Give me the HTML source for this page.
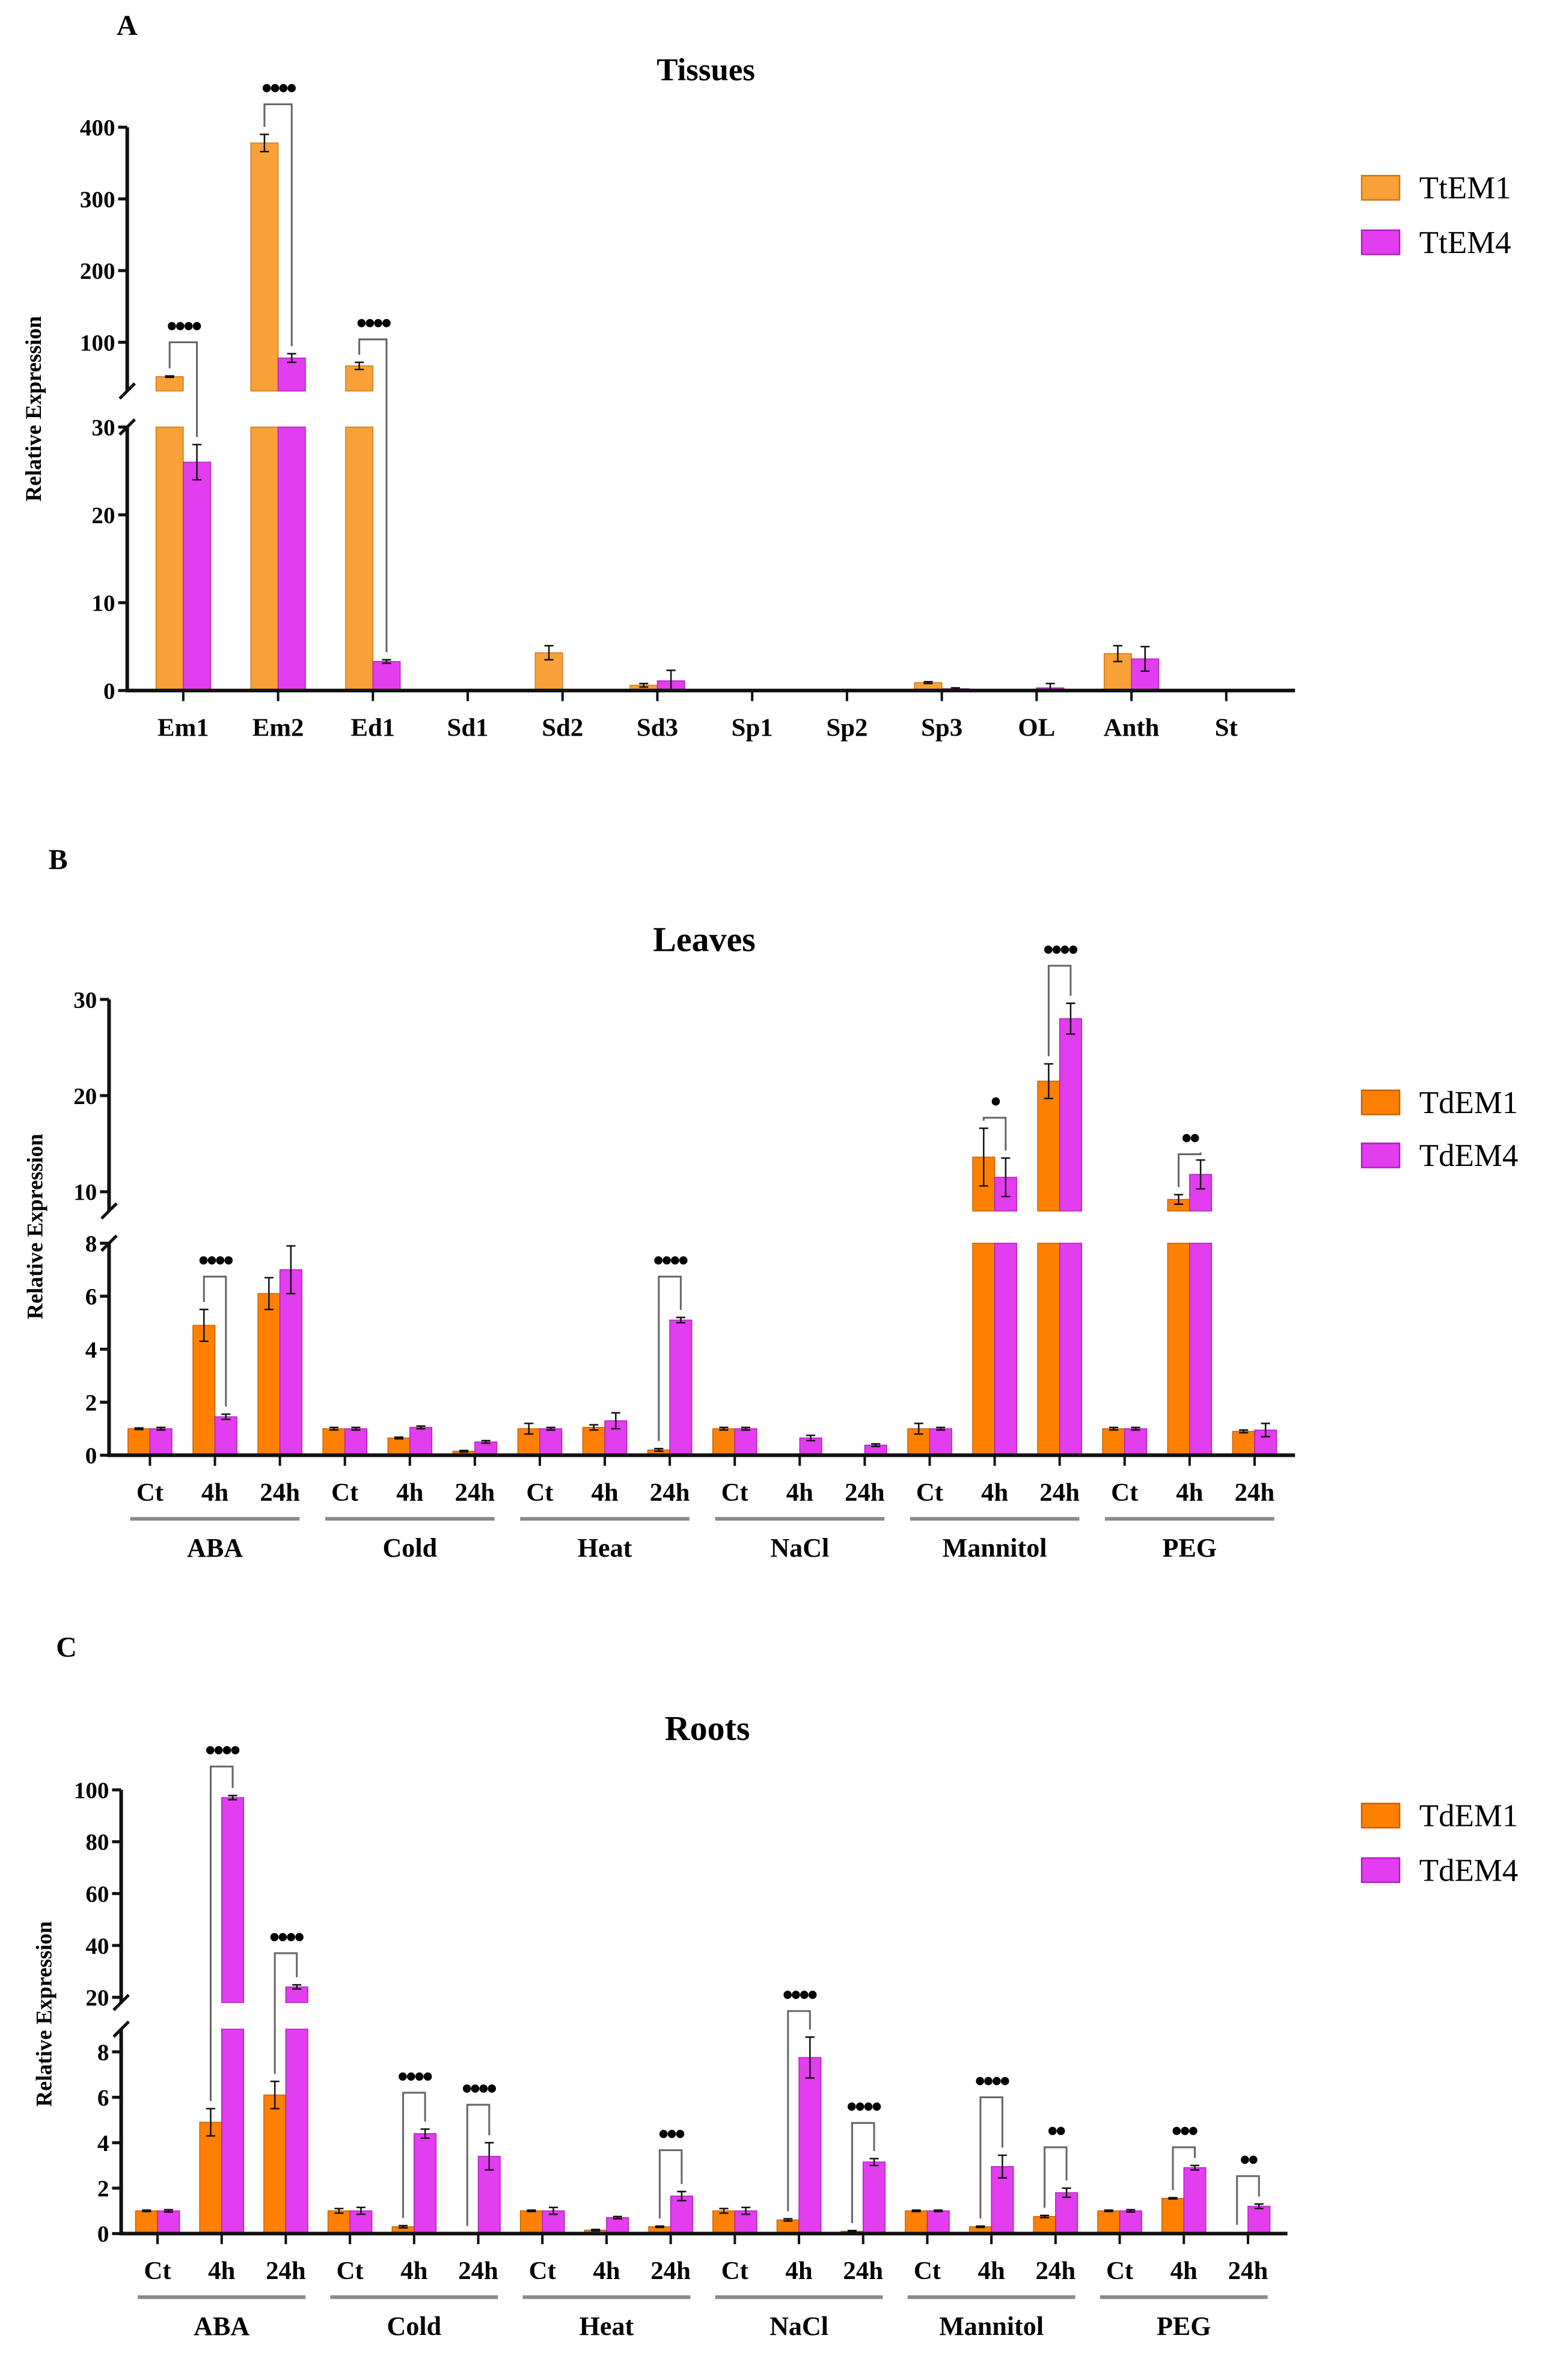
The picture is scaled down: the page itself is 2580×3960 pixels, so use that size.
<!DOCTYPE html>
<html><head><meta charset="utf-8"><style>
html,body{margin:0;padding:0;background:#fff;}
svg{display:block;}
text{font-family:"Liberation Serif",serif;}
</style></head><body>
<svg id="fig" xmlns="http://www.w3.org/2000/svg" width="2580" height="3960" viewBox="0 0 1024 1571.7" preserveAspectRatio="none"></svg>
<script>
// ---- Panel A data ----
const aCats=['Em1','Em2','Ed1','Sd1','Sd2','Sd3','Sp1','Sp2','Sp3','OL','Anth','St'];
const aS1=[52,378,67,0,4.3,0.6,0,0,0.9,0,4.2,0];
const aE1=[1,12,5,0,0.8,0.2,0,0,0.1,0,0.9,0];
const aS2=[26,78,3.3,0,0,1.1,0,0,0.2,0.3,3.6,0];
const aE2=[2,6,0.2,0,0,1.2,0,0,0.1,0.5,1.4,0];
const aTicksLow=[0,10,20,30];
const aTicksUp=[100,200,300,400];
const aSigIdx=[0,1,2];
const aSigLvl=[100,432,104];
const aSigLbl=['••••','••••','••••'];
// ---- Panel B data ----
const bGroups=['ABA','Cold','Heat','NaCl','Mannitol','PEG'];
const bSub=['Ct','4h','24h'];
const bS1=[1,4.9,6.1, 1,0.65,0.15, 1,1.05,0.2, 1,0,0, 1,13.6,21.5, 1,9.2,0.9];
const bE1=[0.03,0.6,0.6, 0.05,0.03,0.03, 0.2,0.1,0.05, 0.05,0,0, 0.2,3,1.8, 0.05,0.5,0.05];
const bS2=[1,1.45,7.0, 1,1.05,0.5, 1,1.3,5.1, 1,0.65,0.38, 1,11.5,28, 1,11.8,0.95];
const bE2=[0.05,0.1,0.9, 0.05,0.05,0.05, 0.05,0.3,0.1, 0.05,0.1,0.05, 0.05,2,1.6, 0.05,1.5,0.25];
const bTicksLow=[0,2,4,6,8];
const bTicksUp=[10,20,30];
const bSigIdx=[1,8,13,14,16];
const bSigLvl=[6.74,6.74,17.7,33.5,13.9];
const bSigLbl=['••••','••••','•','••••','••'];
// ---- Panel C data ----
const cS1=[1,4.9,6.1, 1,0.3,0, 1,0.15,0.3, 1,0.6,0.1, 1,0.3,0.75, 1,1.55,0.05];
const cE1=[0.03,0.6,0.6, 0.1,0.05,0, 0.03,0.03,0.03, 0.1,0.05,0.03, 0.03,0.03,0.05, 0.03,0.03,0];
const cS2=[1,97,24, 1,4.4,3.4, 1,0.7,1.65, 1,7.75,3.15, 1,2.95,1.8, 1,2.9,1.2];
const cE2=[0.05,0.8,0.8, 0.15,0.2,0.6, 0.15,0.05,0.2, 0.15,0.9,0.15, 0.03,0.5,0.2, 0.05,0.1,0.1];
const cTicksLow=[0,2,4,6,8];
const cTicksUp=[20,40,60,80,100];
const cSigIdx=[1,2,4,5,8,10,11,13,14,16,17];
const cSigLvl=[109,37,6.2,5.67,3.67,14.7,4.87,6,3.8,3.8,2.53];
const cSigLbl=['••••','••••','••••','••••','•••','••••','••••','••••','••','•••','••'];

const NS='http://www.w3.org/2000/svg';
const svg=document.getElementById('fig');
function mk(tag,attrs,parent,txt){const e=document.createElementNS(NS,tag);for(const k in attrs)e.setAttribute(k,attrs[k]);if(txt!==undefined)e.textContent=txt;(parent||svg).appendChild(e);return e;}

function chart(o){
  const g=mk('g',{});
  
  
  const L=o.low,U=o.up;
  const y=v=> v<=L.max ? L.y0-v*L.k : U.by-(v-U.min)*U.k;
  const xc=i=>o.first+i*o.step;
  const n=o.s1.length;
  function bar(cx,v,col,stroke,nm){
    if(v<=0)return;
    if(v<=L.max){
      const r=mk('rect',{x:cx,y:y(v),width:o.bw,height:L.y0-y(v),fill:col,stroke:stroke,'stroke-width':0.6},g);
      
    }else{
      const r1=mk('rect',{x:cx,y:L.y0-L.max*L.k,width:o.bw,height:L.max*L.k,fill:col,stroke:stroke,'stroke-width':0.6},g);
      
      const r2=mk('rect',{x:cx,y:y(v),width:o.bw,height:U.by-y(v),fill:col,stroke:stroke,'stroke-width':0.6},g);
      
    }
  }
  function err(cx,v,e){
    if(v<=0||e<=0)return;
    const x=cx+o.bw/2;
    const el=mk('path',{d:`M${x},${y(v+e)}V${y(Math.max(v-e,0))}M${x-3},${y(v+e)}h6M${x-3},${y(Math.max(v-e,0))}h6`,stroke:'#111','stroke-width':1,fill:'none'},g);
    
  }
  for(let i=0;i<n;i++){
    bar(xc(i)-o.bw,o.s1[i],o.c1,o.sk1,'bar-'+o.l1+'-'+i);
    bar(xc(i),o.s2[i],o.c2,o.sk2,'bar-'+o.l2+'-'+i);
    err(xc(i)-o.bw,o.s1[i],o.e1[i]);
    err(xc(i),o.s2[i],o.e2[i]);
  }
  const ax=mk('path',{d:`M${o.x0},${y(L.max)}V${L.y0}H${o.xEnd}M${o.x0},${y(U.ticks[U.ticks.length-1])}V${U.by}`,stroke:'#111','stroke-width':2.4,fill:'none'},g);
  
  const br=mk('path',{d:`M${o.x0-5},${U.by+5}L${o.x0+5},${U.by-5}M${o.x0-5},${y(L.max)+5}L${o.x0+5},${y(L.max)-5}`,stroke:'#111','stroke-width':2,fill:'none'},g);
  
  [...L.ticks,...U.ticks].forEach(t=>{
    const ty=y(t);
    mk('path',{d:`M${o.x0-6},${ty}H${o.x0}`,stroke:'#111','stroke-width':2},g);
    const tl=mk('text',{x:o.x0-8,y:ty+5.5,'text-anchor':'end','font-size':15.5,'font-weight':'bold'},g,String(t));
    
  });
  for(let i=0;i<n;i++){
    mk('path',{d:`M${xc(i)},${L.y0}v7`,stroke:'#111','stroke-width':1.6},g);
    const t=mk('text',{x:xc(i),y:L.y0+30,'text-anchor':'middle','font-size':17,'font-weight':'bold'},g,o.xl[i]);
    
  }
  if(o.groups){
    o.groups.forEach((gn,j)=>{
      const a=xc(j*3)-13,b=xc(j*3+2)+13;
      const ln=mk('path',{d:`M${a},${L.y0+42}H${b}`,stroke:'#8a8a8a','stroke-width':2.4},g);
      
      const t=mk('text',{x:(a+b)/2,y:L.y0+67,'text-anchor':'middle','font-size':17.5,'font-weight':'bold'},g,gn);
      
    });
  }
  o.sigIdx.forEach((i,k)=>{
    const by=y(o.sigLvl[k]);
    const xl=xc(i)-o.bw/2, xr=xc(i)+o.bw/2;
    const yl=y(o.s1[i]+o.e1[i])-5, yr=y(o.s2[i]+o.e2[i])-5;
    const p=mk('path',{d:`M${xl},${yl}V${by}H${xr}V${yr}`,stroke:'#666','stroke-width':1.2,fill:'none'},g);
    
    const t=mk('text',{x:(xl+xr)/2,y:by-4,'text-anchor':'middle','font-size':20,'font-weight':'bold','letter-spacing':'-1.5'},g,o.sigLbl[k]);
    
  });
  const tt=mk('text',{x:o.tx,y:o.ty,'text-anchor':'middle','font-size':o.tfs,'font-weight':'bold'},g,o.title);
  
  const yt=mk('text',{x:0,y:0,transform:`translate(${o.ytx},${o.yty}) rotate(-90)`,'text-anchor':'middle','font-size':14.5,'font-weight':'bold'},g,'Relative Expression');
  
  const pl=mk('text',{x:o.px,y:o.py,'font-size':19,'font-weight':'bold'},g,o.panel);
  
  [[o.c1,o.sk1,o.l1],[o.c2,o.sk2,o.l2]].forEach((s,k)=>{
    const ly=o.ly+k*o.lgap;
    const r=mk('rect',{x:899,y:ly,width:25,height:16,fill:s[0],stroke:s[1],'stroke-width':1},g);
    
    const t=mk('text',{x:937,y:ly+15,'font-size':21},g,s[2]);
    
  });
}
const subLabels=[];bGroups.forEach(()=>bSub.forEach(s=>subLabels.push(s)));

chart({name:'tissues-chart',panel:'A',px:77,py:23,title:'Tissues',tx:466,ty:53,tfs:21,ytx:27,yty:270,
  x0:84,xEnd:855,first:121,step:62.6,bw:18,
  low:{y0:456,k:5.8,max:30,ticks:aTicksLow},up:{min:32,by:258.2,k:0.4733,ticks:aTicksUp},
  s1:aS1,e1:aE1,s2:aS2,e2:aE2,xl:aCats,c1:'#F9A136',sk1:'#c97a20',c2:'#E23DEE',sk2:'#b020c0',l1:'TtEM1',l2:'TtEM4',
  sigIdx:aSigIdx,sigLvl:aSigLvl,sigLbl:aSigLbl,ly:116,lgap:36});
chart({name:'leaves-chart',panel:'B',px:32,py:574,title:'Leaves',tx:465,ty:628,tfs:23,ytx:28,yty:810,
  x0:72,xEnd:855,first:99,step:42.9,bw:14.5,
  low:{y0:961,k:17.5,max:8,ticks:bTicksLow},up:{min:8,by:799.7,k:6.35,ticks:bTicksUp},
  s1:bS1,e1:bE1,s2:bS2,e2:bE2,xl:subLabels,groups:bGroups,c1:'#FF8000',sk1:'#c86000',c2:'#E23DEE',sk2:'#b020c0',l1:'TdEM1',l2:'TdEM4',
  sigIdx:bSigIdx,sigLvl:bSigLvl,sigLbl:bSigLbl,ly:720,lgap:35});
chart({name:'roots-chart',panel:'C',px:37,py:1094,title:'Roots',tx:467,ty:1149,tfs:23,ytx:34,yty:1330,
  x0:80,xEnd:850,first:104,step:42.35,bw:14.5,
  low:{y0:1475,k:15,max:9,ticks:cTicksLow},up:{min:18,by:1322.4,k:1.7125,ticks:cTicksUp},
  s1:cS1,e1:cE1,s2:cS2,e2:cE2,xl:subLabels,groups:bGroups,c1:'#FF8000',sk1:'#c86000',c2:'#E23DEE',sk2:'#b020c0',l1:'TdEM1',l2:'TdEM4',
  sigIdx:cSigIdx,sigLvl:cSigLvl,sigLbl:cSigLbl,ly:1191,lgap:36});
</script>
</body></html>
